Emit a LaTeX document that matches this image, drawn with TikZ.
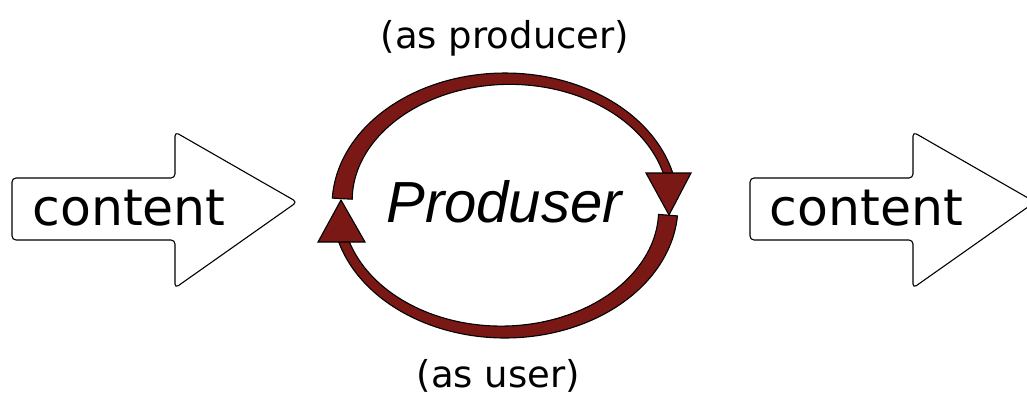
\documentclass[tikz,border=0pt]{standalone}
\usepackage{fontspec}
\setmainfont{DejaVu Sans}
\newfontfamily\slantfont{Liberation Sans}
\definecolor{cyclered}{RGB}{122,24,22}
\begin{document}
\begin{tikzpicture}[x=1pt,y=-1pt,
  flowarrow/.style={draw=black,line width=1.1pt,fill=white,rounded corners=4pt,line join=round},
  band/.style={draw=black,line width=1.1pt,fill=cyclered,line join=round},
  tiphead/.style={draw=black,line width=1.1pt,fill=cyclered,line join=miter},
  bigword/.style={inner sep=0pt,anchor=base,font=\fontsize{50.5}{60}\selectfont},
  roleword/.style={inner sep=0pt,anchor=base,font=\fontsize{37}{44}\selectfont}]
\useasboundingbox (0,0) rectangle (1027,400);

% incoming and outgoing content arrows
\draw[flowarrow] (12,178) -- (175,178) -- (175,132) -- (297,202) -- (175,288) -- (175,240) -- (12,240) -- cycle;
\draw[flowarrow] (750,178) -- (913,178) -- (913,132) -- (1035,202) -- (913,288) -- (913,240) -- (750,240) -- cycle;
\node[bigword] (cin) at (129,225) {content};
\node[bigword] (cout) at (866.5,225) {content};

% upper half of the cycle: thick at the left, thinning towards the head
\draw[band]
  plot[domain=183.2:346,samples=80,variable=\t]
    ({505+173*cos(\t)},{205.5+132.5*sin(\t)})
  -- plot[domain=346:183.2,samples=80,variable=\t]
    ({505+(173-(9+11*((346-\t)/163)^2))*cos(\t)},{205.5+(132.5-(9+11*((346-\t)/163)^2))*sin(\t)})
  -- cycle;
% lower half of the cycle: thick at the right
\draw[band]
  plot[domain=4.5:164,samples=80,variable=\t]
    ({505+173*cos(\t)},{205.5+132.5*sin(\t)})
  -- plot[domain=164:4.5,samples=80,variable=\t]
    ({505+(173-(10+9*((164-\t)/159.5)^2))*cos(\t)},{205.5+(132.5-(10+9*((164-\t)/159.5)^2))*sin(\t)})
  -- cycle;

% arrow heads of the cycle
\coordinate (rtip) at (669,215);
\coordinate (ltip) at (341,200);
\draw[tiphead] (646,173) -- (691,173) -- (rtip) -- cycle;
\draw[tiphead] (318,242) -- (365,242) -- (ltip) -- cycle;

\node[inner sep=0pt,anchor=base,font=\slantfont\fontsize{58}{68}\selectfont\itshape] (prod) at (504,222) {Produser};
\node[roleword] (asprod) at (505,48) {(as producer)};
\node[roleword] (asuser) at (498.5,387.5) {(as user)};
\end{tikzpicture}
\end{document}
